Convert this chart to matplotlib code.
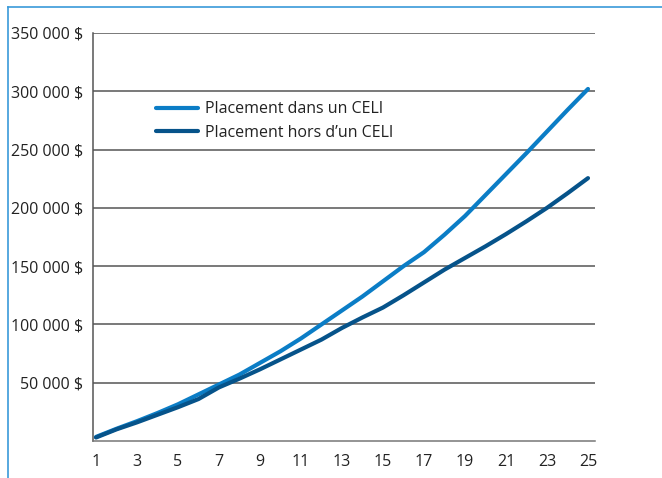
import matplotlib
matplotlib.use("Agg")
import matplotlib.pyplot as plt
from matplotlib.lines import Line2D
from matplotlib import font_manager

years = list(range(1, 26))
celi = [3500, 10500, 17000, 24000, 31500, 40000, 48500, 57000, 67000, 77000,
        88000, 100000, 112000, 124000, 137000, 150000, 162000, 177000, 193000, 211000,
        229000, 247000, 265500, 284000, 302000]
hors_celi = [3000, 10000, 16000, 22500, 29000, 36000, 46000, 53500, 61500, 70000,
             78500, 87000, 97000, 106000, 114500, 125000, 136000, 147000, 157000, 167000,
             177500, 188500, 200000, 212500, 225500]
series_labels = ["Placement dans un CELI", "Placement hors d\u2019un CELI"]
xticks = list(range(1, 26, 2))
yticks = [50000, 100000, 150000, 200000, 250000, 300000, 350000]
ytick_labels = ["50 000 $", "100 000 $", "150 000 $", "200 000 $", "250 000 $", "300 000 $", "350 000 $"]

names = {f.name for f in font_manager.fontManager.ttflist}
if 'Liberation Sans Narrow' in names:
    plt.rcParams['font.family'] = ['Liberation Sans Narrow', 'DejaVu Sans']
    fs = 12.5
else:
    plt.rcParams['font.family'] = ['Open Sans', 'DejaVu Sans']
    fs = 11.5

c_light = '#0b7dc6'
c_dark = '#06538a'

fig = plt.figure(figsize=(6.62, 4.78), dpi=100)
ax = fig.add_axes([93/662, 37/478, (595-93)/662, (441-33)/478])

ax.set_ylim(0, 350000)
ax.set_xlim(1 - 3/20.5, 25 + 7/20.5)

for yv in yticks:
    ax.axhline(yv, color='#555555', lw=1.1, zorder=1)

ax.plot(years, celi, color=c_light, lw=3.0, solid_capstyle='round', zorder=3)
ax.plot(years, hors_celi, color=c_dark, lw=3.0, solid_capstyle='round', zorder=3)

for s in ['top', 'right']:
    ax.spines[s].set_visible(False)
ax.spines['left'].set_color('#555555')
ax.spines['bottom'].set_color('#777777')
ax.spines['left'].set_linewidth(1.1)
ax.spines['bottom'].set_linewidth(1.1)

ax.set_xticks(xticks)
ax.set_xticklabels([str(x) for x in xticks])
ax.set_yticks(yticks)
ax.set_yticklabels(ytick_labels)
ax.tick_params(axis='both', length=0, labelsize=fs, colors='#222222')
ax.tick_params(axis='y', pad=7)
ax.tick_params(axis='x', pad=9)

handles = [Line2D([0], [0], color=c_light, lw=3.0, solid_capstyle='round'),
           Line2D([0], [0], color=c_dark, lw=3.0, solid_capstyle='round')]
leg = ax.legend(handles, series_labels, frameon=False, fontsize=fs,
                loc='upper left', bbox_to_anchor=((150-93)/502, (441-95)/408),
                handlelength=2.6, handletextpad=0.45, labelspacing=0.45,
                borderaxespad=0, labelcolor='#222222')

# light blue frame
fig.add_artist(Line2D([8/662, 8/662], [0, (478-7)/478], color='#3a9ad9', lw=1.2, transform=fig.transFigure))
fig.add_artist(Line2D([8/662, 1], [(478-7)/478, (478-7)/478], color='#3a9ad9', lw=1.2, transform=fig.transFigure))

fig.savefig('out.png', dpi=100)
